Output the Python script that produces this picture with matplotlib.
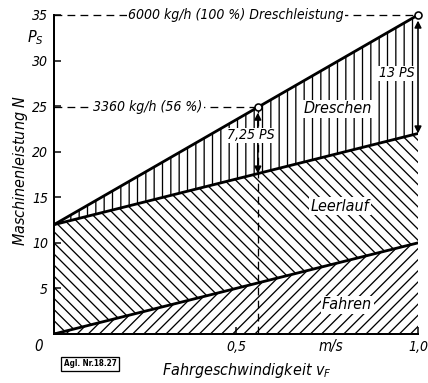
import matplotlib.pyplot as plt
import numpy as np

# scale of the drawing: v_F in m/s, N in PS
v = [0.0, 1.0]
fahren = [0.0, 10.0]
leerlauf = [12.0, 22.0]
dreschen = [12.0, 35.0]

# operating points on the threshing line
pt_v = [0.56, 1.0]
pt_n = [24.9, 35.0]
pt_base = [17.6, 22.0]
pt_delta = ['7,25 PS', '13 PS']
pt_text = ['3360 kg/h (56 %)', '6000 kg/h (100 %) Dreschleistung']

y_ticks = [5, 10, 15, 20, 25, 30, 35]
x_ticks = [0.5, 1.0]
x_ticklabels = ['0,5', '1,0']

DPI = 100
PT = 72 / DPI  # points per pixel

plt.rcParams['font.family'] = ['DejaVu Sans']
plt.rcParams['font.stretch'] = 'condensed'
plt.rcParams['font.style'] = 'italic'
plt.rcParams['hatch.linewidth'] = 1.3 * PT

fig = plt.figure(figsize=(4.28, 3.83), dpi=DPI)
ax = fig.add_axes([54 / 428, 49 / 383, 364 / 428, 319 / 383])

ax.fill_between(v, 0, fahren, facecolor='white', edgecolor='black', hatch='///', linewidth=0)
ax.fill_between(v, fahren, leerlauf, facecolor='white', edgecolor='black', hatch='\\\\\\', linewidth=0)
ax.fill_between(v, leerlauf, dreschen, facecolor='white', edgecolor='black', hatch='||', linewidth=0)
for n in (fahren, leerlauf, dreschen):
    ax.plot(v, n, color='black', lw=2.8 * PT, solid_capstyle='round')

# dashed guides to the axis
for vv, nn in zip(pt_v, pt_n):
    ax.plot([0, vv], [nn, nn], color='black', lw=1.3 * PT, dashes=(6, 4), clip_on=False)
ax.plot([pt_v[0], pt_v[0]], [0, pt_n[0]], color='black', lw=1.3 * PT, dashes=(6, 4))

ax.text(0.258, pt_n[0], pt_text[0], ha='center', va='center', fontsize=14 * PT,
        bbox=dict(facecolor='white', edgecolor='none', pad=1))
ax.text(0.5, pt_n[1], pt_text[1], ha='center', va='center', fontsize=14 * PT,
        bbox=dict(facecolor='white', edgecolor='none', pad=1))

# differences (double arrows)
for vv, nn, nb in zip(pt_v, pt_n, pt_base):
    ax.annotate('', xy=(vv, nn), xytext=(vv, nb),
                arrowprops=dict(arrowstyle='<|-|>', color='black', lw=1.6 * PT,
                                mutation_scale=14 * PT, shrinkA=0, shrinkB=4))
ax.plot(pt_v, pt_n, 'o', ms=7 * PT, mfc='white', mec='black', mew=1.6 * PT, clip_on=False, zorder=5)

ax.text(0.54, 21.8, pt_delta[0], ha='center', va='center', fontsize=14 * PT,
        bbox=dict(facecolor='white', edgecolor='none', pad=0.5))
ax.text(0.99, 28.6, pt_delta[1], ha='right', va='center', fontsize=14 * PT,
        bbox=dict(facecolor='white', edgecolor='none', pad=0.5))

# area names
ax.text(0.78, 24.7, 'Dreschen', ha='center', va='center', fontsize=16 * PT,
        bbox=dict(facecolor='white', edgecolor='none', pad=1))
ax.text(0.785, 14.0, 'Leerlauf', ha='center', va='center', fontsize=16 * PT,
        bbox=dict(facecolor='white', edgecolor='none', pad=1))
ax.text(0.805, 3.2, 'Fahren', ha='center', va='center', fontsize=16 * PT,
        bbox=dict(facecolor='white', edgecolor='none', pad=1))

ax.set_xlim(0, 1.0)
ax.set_ylim(0, 35)
for s in ('top', 'right'):
    ax.spines[s].set_visible(False)
for s in ('left', 'bottom'):
    ax.spines[s].set_linewidth(2 * PT)

ax.set_yticks(y_ticks)
ax.set_xticks(x_ticks)
ax.set_xticklabels(x_ticklabels)
ax.tick_params(direction='in', length=7 * PT, width=1.5 * PT, labelsize=14 * PT, pad=6 * PT)
ax.text(-0.03, -1.4, '0', ha='right', va='center', fontsize=15 * PT)
ax.text(0.76, -1.4, 'm/s', ha='center', va='center', fontsize=15 * PT)

ax.text(-0.05, 32.5, '$P_S$', ha='center', va='center', fontsize=16 * PT)
fig.text(21 / 428, 1 - 170 / 383, 'Maschinenleistung $N$', rotation=90,
         ha='center', va='center', fontsize=16 * PT)
fig.text(247 / 428, 1 - 370 / 383, 'Fahrgeschwindigkeit $v_F$',
         ha='center', va='center', fontsize=16 * PT)
fig.text(90 / 428, 1 - 364 / 383, 'Agl. Nr.18.27', ha='center', va='center', fontsize=8 * PT,
         style='normal', fontweight='bold',
         bbox=dict(facecolor='white', edgecolor='black', pad=1.5, linewidth=1.3 * PT))

plt.savefig('out.png', dpi=DPI)
plt.close()
